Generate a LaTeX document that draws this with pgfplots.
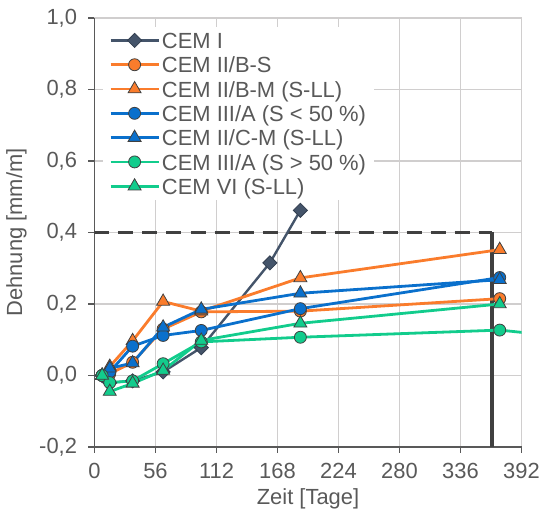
\documentclass[border=0pt]{standalone}
\usepackage{fontspec}
\setmainfont{Liberation Sans}
\usepackage{pgfplots}
\pgfplotsset{compat=1.18}
\definecolor{cemI}{HTML}{44546A}
\definecolor{cemIe}{HTML}{333F50}
\definecolor{corange}{HTML}{FA7C2C}
\definecolor{cblue}{HTML}{0A70CC}
\definecolor{cteal}{HTML}{12CC8C}
\definecolor{medge}{HTML}{404040}
\definecolor{gridgray}{HTML}{D0CECE}
\definecolor{axgray}{HTML}{595959}
\definecolor{txtgray}{HTML}{595959}
\definecolor{refline}{HTML}{404040}
\newcommand{\ls}{\rule[-3bp]{0pt}{21bp}}
\begin{document}
\begin{tikzpicture}
\path[use as bounding box] (-94.5bp,-68bp) rectangle (447.5bp,447bp);
\begin{axis}[
  at={(0,0)}, anchor=south west,
  scale only axis, width=427bp, height=429bp,
  xmin=0, xmax=392, ymin=-0.2, ymax=1.0,
  xtick={0,56,112,168,224,280,336,392},
  ytick={-0.2,0,0.2,0.4,0.6,0.8,1.0},
  /pgf/number format/assume math mode=true,
  yticklabel style={/pgf/number format/.cd, fixed, fixed zerofill, precision=1, use comma, /tikz/.cd, xshift=-8bp},
  xticklabel style={/pgf/number format/.cd, fixed, precision=0, /tikz/.cd, yshift=-7bp},
  font=\fontsize{22}{26}\selectfont,
  every tick label/.append style={text=txtgray, font=\fontsize{22}{26}\selectfont},
  grid=major,
  major grid style={color=gridgray, line width=1.3bp},
  axis lines*=left,
  axis line style={color=axgray, line width=1.5bp},
  tick style={color=axgray, line width=1.3bp},
  tick align=outside, major tick length=6bp,
  xlabel={Zeit [Tage]}, ylabel={Dehnung [mm/m]},
  label style={text=txtgray, font=\fontsize{22}{26}\selectfont},
  xlabel style={at={(axis description cs:0.5,0)}, anchor=center, yshift=-52bp},
  ylabel style={at={([xshift=-78bp]axis description cs:0,0.5)}, anchor=center},
  legend style={at={(rel axis cs:0,1)}, anchor=north west, xshift=8.5bp, yshift=-8.5bp,
    draw=none, fill=white, inner xsep=6bp, inner ysep=4bp, row sep=4.8bp,
    font=\fontsize{22}{26}\selectfont, text=txtgray,
    nodes={inner xsep=2bp, inner ysep=0bp}},
  legend cell align=left,
  legend image code/.code={\draw[mark repeat=2,mark phase=2,#1] plot coordinates {(0bp,0bp) (24bp,0bp) (48bp,0bp)};},
  every axis plot/.append style={line width=2.8bp},
]
% reference lines
\addplot[refline, line width=3bp, dash pattern=on 15bp off 9bp, forget plot] coordinates {(0,0.4) (365,0.4)};
\addplot[refline, line width=3.5bp, forget plot] coordinates {(365,0.4) (365,-0.2)};

\addplot[color=cemI, line width=2.4bp, mark=square*, mark size=5bp, mark options={fill=cemI, draw=cemIe, line width=0.8bp, solid, rotate=45}]
 coordinates {(7,0) (14,-0.02) (35,-0.015) (63,0.01) (98,0.078) (161,0.315) (189,0.462)};
\addlegendentry{\ls CEM I}
\addplot[color=corange, mark=*, mark size=6bp, mark options={fill=corange, draw=medge, line width=0.8bp}]
 coordinates {(7,0) (14,0.005) (35,0.037) (63,0.13) (98,0.178) (189,0.18) (372,0.215)};
\addlegendentry{\ls CEM II/B-S}
\addplot[color=corange, mark=triangle*, mark size=7.5bp, mark options={fill=corange, draw=medge, line width=0.8bp}]
 coordinates {(7,0) (14,0.025) (35,0.097) (63,0.207) (98,0.18) (189,0.273) (372,0.352)};
\addlegendentry{\ls CEM II/B-M (S-LL)}
\addplot[color=cblue, mark=*, mark size=6bp, mark options={fill=cblue, draw=medge, line width=0.8bp}]
 coordinates {(7,0) (14,0.01) (35,0.082) (63,0.112) (98,0.126) (189,0.187) (372,0.274)};
\addlegendentry{\ls CEM III/A (S < 50 \%)}
\addplot[color=cblue, mark=triangle*, mark size=7.5bp, mark options={fill=cblue, draw=medge, line width=0.8bp}]
 coordinates {(7,0) (14,0.02) (35,0.035) (63,0.135) (98,0.185) (189,0.23) (372,0.268)};
\addlegendentry{\ls CEM II/C-M (S-LL)}
\addplot[color=cteal, mark=*, mark size=6bp, mark options={fill=cteal, draw=medge, line width=0.8bp}]
 coordinates {(7,0) (14,-0.02) (35,-0.015) (63,0.033) (98,0.094) (189,0.107) (372,0.127) (553,0.07)};
\addlegendentry{\ls CEM III/A (S > 50 \%)}
\addplot[color=cteal, mark=triangle*, mark size=7.5bp, mark options={fill=cteal, draw=medge, line width=0.8bp}]
 coordinates {(7,0) (14,-0.045) (35,-0.022) (63,0.014) (98,0.098) (189,0.146) (372,0.2)};
\addlegendentry{\ls CEM VI (S-LL)}
\end{axis}
\end{tikzpicture}
\end{document}
